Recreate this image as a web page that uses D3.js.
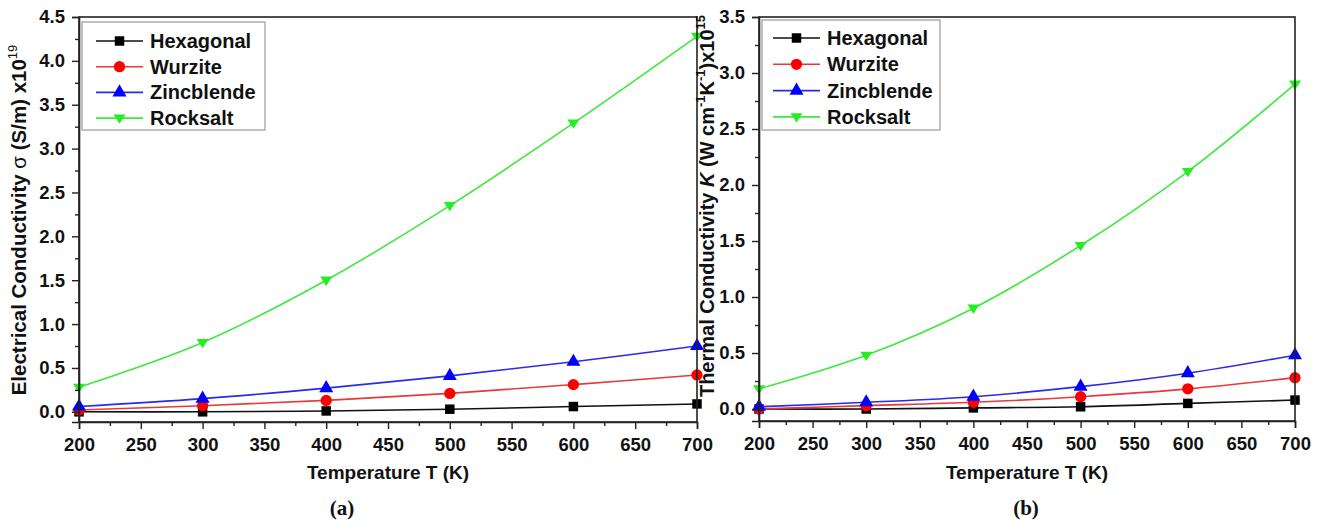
<!DOCTYPE html>
<html>
<head>
<meta charset="utf-8">
<script src="https://cdn.jsdelivr.net/npm/d3@7"></script>
<style>
  body { margin: 0; background: #fff; }
  svg { display: block; font-family: "Liberation Sans", Arial, sans-serif; }
</style>
</head>
<body>
<svg id="chart" width="1320" height="521"></svg>
<script>
// Temperature points (K)
const temps = [200, 300, 400, 500, 600, 700];
const xTicks = [200, 250, 300, 350, 400, 450, 500, 550, 600, 650, 700];

// (a) Electrical conductivity, x10^19 S/m
const sigmaHexagonal  = [0.00, 0.00, 0.01, 0.03, 0.06, 0.09];
const sigmaWurzite    = [0.02, 0.07, 0.13, 0.21, 0.31, 0.42];
const sigmaZincblende = [0.06, 0.15, 0.27, 0.41, 0.57, 0.75];
const sigmaRocksalt   = [0.28, 0.79, 1.50, 2.35, 3.29, 4.28];
const sigmaTicks = [0.0, 0.5, 1.0, 1.5, 2.0, 2.5, 3.0, 3.5, 4.0, 4.5];

// (b) Thermal conductivity, x10^15 W cm^-1 K^-1
const kappaHexagonal  = [0.00, 0.00, 0.01, 0.02, 0.05, 0.08];
const kappaWurzite    = [0.00, 0.03, 0.06, 0.11, 0.18, 0.28];
const kappaZincblende = [0.02, 0.06, 0.11, 0.20, 0.32, 0.48];
const kappaRocksalt   = [0.18, 0.48, 0.90, 1.46, 2.12, 2.90];
const kappaTicks = [0.0, 0.5, 1.0, 1.5, 2.0, 2.5, 3.0, 3.5];

const seriesNames = ["Hexagonal", "Wurzite", "Zincblende", "Rocksalt"];
const seriesStyle = {
  Hexagonal:  { line: "#111111", fill: "#000000", symbol: d3.symbolSquare },
  Wurzite:    { line: "#e8393a", fill: "#ff0000", symbol: d3.symbolCircle },
  Zincblende: { line: "#2a2ae8", fill: "#0000ff", symbol: d3.symbolTriangle },
  Rocksalt:   { line: "#3ee83e", fill: "#22ee22", symbol: "down" }
};

const svg = d3.select("#chart");

function marker(g, name, x, y) {
  const st = seriesStyle[name];
  if (st.symbol === "down") {
    const s = 6;
    g.append("path")
      .attr("d", `M${x - s},${y - s * 0.6} L${x + s},${y - s * 0.6} L${x},${y + s * 0.95} Z`)
      .attr("fill", st.fill);
  } else {
    const size = name === "Hexagonal" ? 90 : (name === "Wurzite" ? 100 : 85);
    g.append("path")
      .attr("d", d3.symbol(st.symbol, size)())
      .attr("transform", `translate(${x},${y})`)
      .attr("fill", st.fill);
  }
}

function panel(opts) {
  const { left, right, top, bottom, yMin, yMax, yTicks, data, legend } = opts;
  const x = d3.scaleLinear().domain([200, 700]).range([left, right]);
  const y = d3.scaleLinear().domain([yMin, yMax]).range([bottom, top]);
  const g = svg.append("g");

  // smooth curves through the computed points
  const line = d3.line().x((d, i) => x(temps[i])).y(d => y(d)).curve(d3.curveCatmullRom.alpha(0.5));
  seriesNames.forEach(name => {
    g.append("path").datum(data[name])
      .attr("d", line).attr("fill", "none")
      .attr("stroke", seriesStyle[name].line).attr("stroke-width", 1.6);
  });
  seriesNames.forEach(name => {
    data[name].forEach((v, i) => marker(g, name, x(temps[i]), y(v)));
  });

  // frame
  g.append("rect").attr("x", left).attr("y", top).attr("width", right - left).attr("height", bottom - top)
    .attr("fill", "none").attr("stroke", "#222").attr("stroke-width", 1.6);

  // x axis with minor ticks
  const xMinor = d3.range(200, 701, 25);
  const xAxis = g.append("g").attr("transform", `translate(0,${bottom})`)
    .call(d3.axisBottom(x).tickValues(xTicks).tickSize(7).tickPadding(9).tickFormat(d3.format("d")));
  g.append("g").attr("transform", `translate(0,${bottom})`)
    .call(d3.axisBottom(x).tickValues(xMinor.filter(v => v % 50 !== 0)).tickSize(4).tickFormat(""))
    .call(a => a.select(".domain").remove());

  // y axis with minor ticks
  const yAxis = g.append("g").attr("transform", `translate(${left},0)`)
    .call(d3.axisLeft(y).tickValues(yTicks).tickSize(7).tickPadding(7).tickFormat(d3.format(".1f")));
  const yMinor = d3.range(0.25, yMax, 0.5);
  g.append("g").attr("transform", `translate(${left},0)`)
    .call(d3.axisLeft(y).tickValues(yMinor).tickSize(4).tickFormat(""))
    .call(a => a.select(".domain").remove());

  g.selectAll(".domain").attr("stroke", "#222").attr("stroke-width", 1.6);
  g.selectAll(".tick line").attr("stroke", "#222").attr("stroke-width", 1.4);
  [xAxis, yAxis].forEach(a => a.selectAll("text")
    .attr("font-size", 18.5).attr("font-weight", "bold").attr("fill", "#111")
    .attr("font-family", "'Liberation Sans', Arial, sans-serif"));

  // legend
  const lg = g.append("g");
  lg.append("rect").attr("x", legend.x).attr("y", legend.y).attr("width", legend.w).attr("height", legend.h)
    .attr("fill", "#fff").attr("stroke", "#999").attr("stroke-width", 1.2);
  seriesNames.forEach((name, i) => {
    const ly = legend.y + legend.first + i * legend.step;
    lg.append("line").attr("x1", legend.x + legend.l1).attr("x2", legend.x + legend.l2).attr("y1", ly).attr("y2", ly)
      .attr("stroke", seriesStyle[name].line).attr("stroke-width", 1.6);
    marker(lg, name, legend.x + (legend.l1 + legend.l2) / 2, ly);
    lg.append("text").attr("x", legend.x + legend.tx).attr("y", ly + 7)
      .attr("font-size", 20).attr("font-weight", "bold").attr("fill", "#111").text(name);
  });

  // x title
  g.append("text").attr("x", opts.titleX).attr("y", 479).attr("text-anchor", "middle")
    .attr("font-size", 19).attr("font-weight", "bold").attr("fill", "#111").text("Temperature T (K)");
  // caption
  g.append("text").attr("x", opts.capX).attr("y", 515).attr("text-anchor", "middle")
    .attr("font-size", 21).attr("font-weight", "bold").attr("fill", "#111")
    .attr("font-family", "'Liberation Serif', 'Times New Roman', serif").text(opts.caption);
  return g;
}

panel({
  left: 79, right: 697, top: 17, bottom: 422, yMin: -0.116, yMax: 4.5, yTicks: sigmaTicks,
  data: { Hexagonal: sigmaHexagonal, Wurzite: sigmaWurzite, Zincblende: sigmaZincblende, Rocksalt: sigmaRocksalt },
  legend: { x: 82, y: 22, w: 183, h: 108, first: 19, step: 25.7, l1: 14, l2: 61, tx: 68 },
  titleX: 388, capX: 342, caption: "(a)"
});
panel({
  left: 759, right: 1295, top: 17, bottom: 421, yMin: -0.107, yMax: 3.5, yTicks: kappaTicks,
  data: { Hexagonal: kappaHexagonal, Wurzite: kappaWurzite, Zincblende: kappaZincblende, Rocksalt: kappaRocksalt },
  legend: { x: 762, y: 20, w: 178, h: 110, first: 18, step: 26.3, l1: 11, l2: 58, tx: 65 },
  titleX: 1027, capX: 1026, caption: "(b)"
});

// y titles
const tA = svg.append("text").attr("transform", "translate(26,220) rotate(-90)")
  .attr("text-anchor", "middle").attr("font-size", 20.5).attr("font-weight", "bold").attr("fill", "#111");
tA.append("tspan").text("Electrical Conductivity ");
tA.append("tspan").attr("font-weight", "normal").text("σ");
tA.append("tspan").text(" (S/m) x10");
tA.append("tspan").attr("font-size", 13).attr("font-weight", "normal").attr("dy", -9).text("19");

const tB = svg.append("text").attr("transform", "translate(714,206) rotate(-90)")
  .attr("text-anchor", "middle").attr("font-size", 20).attr("font-weight", "bold").attr("fill", "#111");
tB.append("tspan").text("Thermal Conductivity ");
tB.append("tspan").attr("font-style", "italic").text("K");
tB.append("tspan").text(" (W cm");
tB.append("tspan").attr("font-size", 13).attr("dy", -9).text("-1");
tB.append("tspan").attr("dy", 9).text("K");
tB.append("tspan").attr("font-size", 13).attr("dy", -9).text("-1");
tB.append("tspan").attr("dy", 9).text(")x10");
tB.append("tspan").attr("font-size", 13).attr("dy", -9).text("15");
</script>
</body>
</html>
